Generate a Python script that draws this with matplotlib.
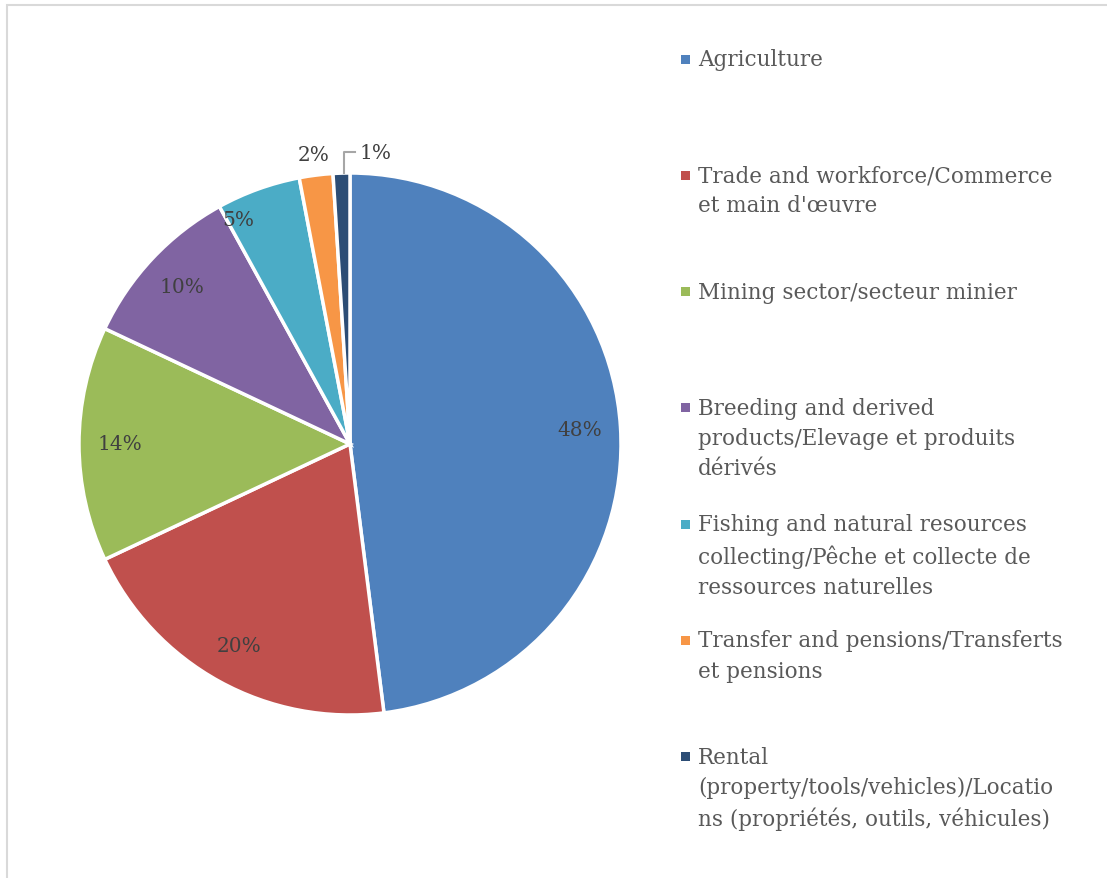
import numpy as np
import matplotlib
matplotlib.use('Agg')
import matplotlib.pyplot as plt
from matplotlib.patches import Rectangle

# data
labels = ['Agriculture',
          'Trade and workforce/Commerce\net main d\'œuvre',
          'Mining sector/secteur minier',
          'Breeding and derived\nproducts/Elevage et produits\ndérivés',
          'Fishing and natural resources\ncollecting/Pêche et collecte de\nressources naturelles',
          'Transfer and pensions/Transferts\net pensions',
          'Rental\n(property/tools/vehicles)/Locatio\nns (propriétés, outils, véhicules)']
shares = [48, 20, 14, 10, 5, 2, 1]
colors = ['#4F81BD', '#C0504D', '#9BBB59', '#8064A2', '#4BACC6', '#F79646', '#2C4D75']

plt.rcParams['font.family'] = ['DejaVu Serif']

W, H = 1107, 879
fig = plt.figure(figsize=(W / 100, H / 100), dpi=100)

# outer frame (only left/top edges visible in the crop)
fig.patches.append(Rectangle((7 / W, -0.1), 1.2, 1.1 - 6 / H, transform=fig.transFigure,
                             fill=False, edgecolor='#D9D9D9', linewidth=1.5))

cx, cy, r = 350, 445, 271
ax = fig.add_axes([(cx - r) / W, (H - cy - r) / H, 2 * r / W, 2 * r / H])

wedges, _ = ax.pie(shares, colors=colors, startangle=90, counterclock=False, radius=1,
                   wedgeprops=dict(edgecolor='white', linewidth=2.5))
ax.set_xlim(-1, 1)
ax.set_ylim(-1, 1)
ax.axis('off')

# label radius per wedge (fraction of radius), and angle tweak in degrees
lab_r = [0.85, 0.85, 0.85, 0.85, 0.926, 1.075, None]
lab_da = [0, 0, 0, 0, 6.7, 0, 0]
txtcol = '#404040'
pct_fs = 14.5
for i, w in enumerate(wedges):
    mid = np.deg2rad((w.theta1 + w.theta2) / 2 + lab_da[i])
    s = '%d%%' % shares[i]
    if lab_r[i] is None:
        # outside label with leader line
        x0, y0 = np.cos(mid), np.sin(mid)
        ax.plot([x0 + 0.01, x0 + 0.01, x0 + 0.05], [y0, 1.077, 1.077], color='#A6A6A6',
                lw=1.5, clip_on=False)
        ax.text(x0 + 0.065, 1.077, s, ha='left', va='center', fontsize=pct_fs, color=txtcol)
    else:
        ax.text(lab_r[i] * np.cos(mid), lab_r[i] * np.sin(mid), s, ha='center', va='center',
                fontsize=pct_fs, color=txtcol)

# legend drawn as a column of slots
y_first = 60
step = 116.3
for i, lab in enumerate(labels):
    y = y_first + step * i
    fig.patches.append(Rectangle((681 / W, 1 - (y + 4.5) / H), 9 / W, 9 / H,
                                 transform=fig.transFigure, facecolor=colors[i],
                                 edgecolor='none'))
    fig.text(698 / W, 1 - (y - 11) / H, lab, ha='left', va='top', fontsize=15.5,
             color='#595959', linespacing=1.48)

plt.savefig('out.png', dpi=100)
